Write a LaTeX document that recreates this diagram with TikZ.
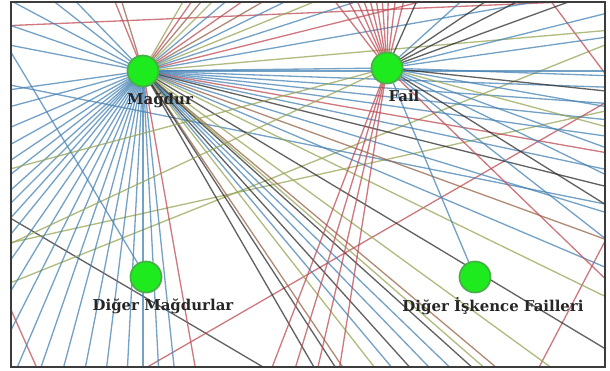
\documentclass[tikz,border=0pt]{standalone}
\usepackage{fontspec}
\setmainfont{DejaVu Serif}
\definecolor{edgeblue}{RGB}{70,130,180}
\definecolor{edgered}{RGB}{190,75,85}
\definecolor{edgeolive}{RGB}{150,165,85}
\definecolor{edgebrown}{RGB}{150,100,70}
\definecolor{edgedark}{RGB}{45,45,45}
\definecolor{nodegreen}{RGB}{30,235,30}
\definecolor{nodeborder}{RGB}{70,175,70}
\definecolor{framegray}{RGB}{60,60,60}

\begin{document}
\begin{tikzpicture}[x=0.02cm,y=-0.02cm,
  edge/.style={line width=0.75pt,opacity=0.75},
  dot/.style={circle,fill=nodegreen,draw=nodeborder,line width=1pt,minimum size=0.62cm,inner sep=0pt},
  lbl/.style={anchor=base,font=\fontsize{8.5}{10}\selectfont\bfseries,text=black!85}]
\useasboundingbox (0,0) rectangle (610,370);
\fill[white] (0,0) rectangle (610,370);
\coordinate (mag) at (143,71);
\coordinate (fail) at (387,68);
\coordinate (digmag) at (146,277);
\coordinate (digfail) at (475,277);
\begin{scope}
\clip (11,2) rectangle (605,367);
% lines leaving the picture
\draw [edge,edgedark] (0,212)--(280,377);
\draw [edge,edgeolive] (0,287)--(610,43);
\draw [edge,edgeolive] (0,245)--(610,110);
\draw [edge,edgered] (0,26)--(610,0);
\draw [edge,edgered] (130,377)--(610,100);
\draw [edge,edgered] (535,375)--(615,222);
\draw [edge,edgered] (550,0)--(610,80);
\draw [edge,edgered] (0,285)--(40,375);
\draw [edge,edgeblue] (0,83)--(610,205);
% Magdur
\foreach \a in {191,199,208,218,226}
  \draw [edge,edgeblue] (mag)--++(\a:900);
\foreach \a/\c in {248/edgered,253/edgebrown,300/edgeolive,305/edgered,310/edgebrown,315/edgeolive,320/edgeblue,325/edgered,330/edgebrown,334/edgeblue,338/edgeolive,342/edgeblue,346/edgered,350/edgeblue,355/edgeolive}
  \draw [edge,\c] (mag)--++(\a:900);
\foreach \a/\c in {0/edgeblue,2/edgeblue,4/edgeblue,6/edgeblue,8/edgeblue,10/edgered,12/edgeblue,14/edgedark,17/edgeblue,20/edgebrown,23/edgeblue,26/edgeolive}
  \draw [edge,\c] (mag)--++(\a:900);
\foreach \a/\c in {31/edgedark,36/edgeolive,40/edgebrown,41/edgeolive,42/edgedark,44/edgeblue,46/edgeblue,48/edgedark,50/edgeblue,52/edgeolive,56/edgebrown,57/edgedark,60/edgedark,80/edgered}
  \draw [edge,\c] (mag)--++(\a:900);
\foreach \a in {84,87,90,93,97,101,105,109,113,117,121,125,129,132,135,138,142,146,151,157,165,172}
  \draw [edge,edgeblue] (mag)--++(\a:900);
% Fail
\foreach \a in {232,240,246,251,256,261,266,271,277,284,99,103,107,111}
  \draw [edge,edgered] (fail)--++(\a:900);
\foreach \a/\c in {294/edgedark,318/edgeblue,326/edgedark,333/edgedark,340/edgedark,346/edgeblue,352/edgeblue,155/edgeolive,165/edgeolive}
  \draw [edge,\c] (fail)--++(\a:900);
\foreach \a/\c in {2/edgeblue,6/edgedark,10/edgeblue,15/edgeolive,20/edgeblue,26/edgeblue,32/edgedark,38/edgeblue,44/edgered}
  \draw [edge,\c] (fail)--++(\a:900);
% Diger Magdurlar
\draw [edge,edgeblue] (digmag)--++(239:900);
% between the nodes
\draw [edge,edgeblue] (mag)--(fail);
\draw [edge,edgeblue] (fail)--(digfail);
\end{scope}
\draw [framegray,line width=0.9pt] (11,2) rectangle (605,367);
\node [dot] (magdot) at (mag) {};
\node [dot] (faildot) at (fail) {};
\node [dot] (digmagdot) at (digmag) {};
\node [dot] (digfaildot) at (digfail) {};
\node [lbl] (maglbl) at (160,104) {Mağdur};
\node [lbl] (faillbl) at (404,101) {Fail};
\node [lbl] (digmaglbl) at (163,310) {Diğer Mağdurlar};
\node [lbl] (digfaillbl) at (493,311) {Diğer İşkence Failleri};
\end{tikzpicture}
\end{document}
